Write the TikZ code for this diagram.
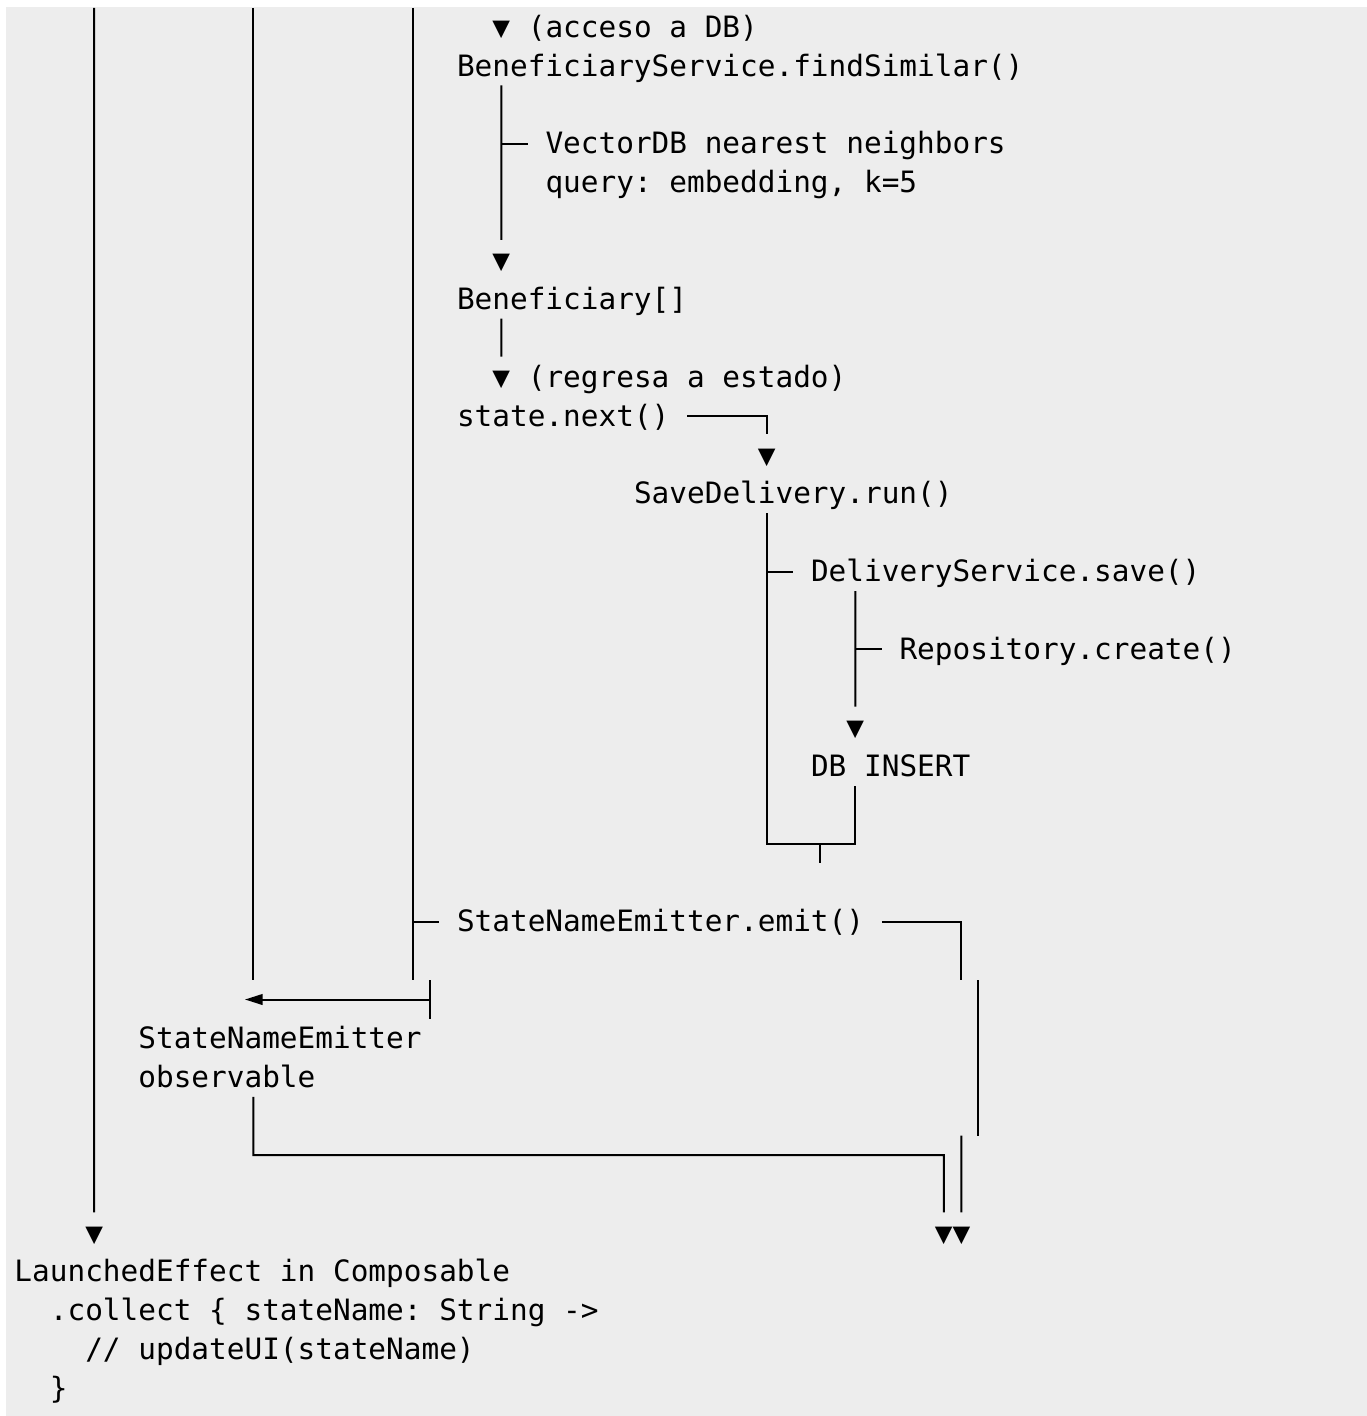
\documentclass[tikz,border=0pt]{standalone}
\usepackage{fontspec}
\setmonofont{DejaVu Sans Mono}
\usepackage{xcolor}
\usepackage{tikz}
\usetikzlibrary{arrows.meta}
\definecolor{paper}{HTML}{EDEDED}
\definecolor{ink}{HTML}{000000}

\begin{document}
\begin{tikzpicture}[x=13.275pt,y=-29.175pt,
  txt/.style={inner sep=0pt,outer sep=0pt,anchor=base west,text=ink,
    font=\ttfamily\fontsize{22.05pt}{29pt}\selectfont},
  wire/.style={draw=ink,line width=1.5pt},
  into/.style={shorten >=10.7pt}]
\useasboundingbox (-1.3192,-0.6941) rectangle (75.912,35.707);
\fill[paper] (-0.98,-0.514) rectangle (75.912,35.707);

% one unit = one character cell (x: column, y: row)
\node[txt] (acc)  at (28.5,0.261)  {(acceso a DB)};
\node[txt] (fs)   at (24.5,1.261)  {BeneficiaryService.findSimilar()};
\node[txt] (vdb)  at (29.5,3.261)  {VectorDB nearest neighbors};
\node[txt] (qry)  at (29.5,4.261)  {query: embedding, k=5};
\node[txt] (ben)  at (24.5,7.261)  {Beneficiary[]};
\node[txt] (reg)  at (28.5,9.261)  {(regresa a estado)};
\node[txt] (nxt)  at (24.5,10.261) {state.next()};
\node[txt] (run)  at (34.5,12.261) {SaveDelivery.run()};
\node[txt] (dsv)  at (44.5,14.261) {DeliveryService.save()};
\node[txt] (rep)  at (49.5,16.261) {Repository.create()};
\node[txt] (ins)  at (44.5,19.261) {DB INSERT};
\node[txt] (emit) at (24.5,23.261) {StateNameEmitter.emit()};
\node[txt] (obs)  at (6.5,26.261)  {StateNameEmitter};
\node[txt] (obsb) at (6.5,27.261)  {observable};
\node[txt] (le)   at (-0.5,32.261) {LaunchedEffect in Composable};
\node[txt] (col)  at (1.5,33.261)  {.collect \{ stateName: String ->};
\node[txt] (upd)  at (3.5,34.261)  {// updateUI(stateName)};
\node[txt] (brc)  at (1.5,35.261)  {\}};

\foreach \n/\c/\r in {t1/27/0,t2/27/6,t3/27/9,t4/42/11,t5/47/18,t6/4/31,t7/52/31,t8/53/31}
  \node[txt] (\n) at (\c-0.5,\r+0.261) {▼};

% lifelines
\coordinate (l4) at (4,-0.49);
\coordinate (l13) at (13,-0.49);
\coordinate (l22) at (22,-0.49);
\draw[wire,into] (l4) -- (t6.north);
\draw[wire] (l13) -- (13,24.5);
\draw[wire] (l22) -- (22,24.5);

% findSimilar
\coordinate (fsd) at (27,1.5);
\draw[wire,into] (fsd) -- (t2.north);
\draw[wire] (27,3) -- (28.5,3);
\coordinate (bend) at (27,7.5);
\draw[wire,into] (bend) -- (t3.north);

% state.next -> SaveDelivery
\coordinate (nxo) at (37.5,10);
\draw[wire,into] (nxo) -| (t4.north);
\coordinate (rund) at (42,12.5);
\coordinate (join) at (45,21);
\draw[wire] (rund) -- (42,21) -- (47,21) -- (47,19.5);
\draw[wire] (42,14) -- (43.5,14);
\draw[wire] (join) -- (45,21.5);
\coordinate (dsvd) at (47,14.5);
\draw[wire,into] (dsvd) -- (t5.north);
\draw[wire] (47,16) -- (48.5,16);

% emit
\draw[wire] (22,23) -- (23.5,23);
\coordinate (emo) at (48.5,23);
\draw[wire] (emo) -- (53,23) -- (53,24.5);
\draw[wire] (53.92,24.5) -- (53.92,28.5);
\draw[wire,into] (53,28.5) -- (t8.north);
\coordinate (bar) at (23,25);
\draw[wire] (23,24.5) -- (23,25.5);
\draw[wire,-{Triangle[length=13.3pt,width=8pt]}] (bar) -- (12.52,25);

% observable
\coordinate (obd) at (13,27.5);
\draw[wire,into] (obd) |- (52,29) -- (t7.north);
\end{tikzpicture}
\end{document}
